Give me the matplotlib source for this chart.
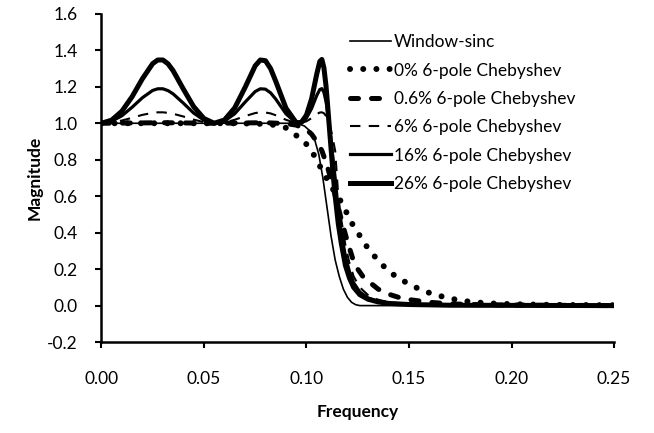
import matplotlib
matplotlib.use('Agg')
import matplotlib.pyplot as plt
from matplotlib.ticker import FormatStrFormatter

plt.rcParams['font.family'] = ['Lato', 'DejaVu Sans']
plt.rcParams['axes.unicode_minus'] = False

# window-sinc
ws_f = [0.000, 0.090, 0.096, 0.099, 0.102, 0.104, 0.106, 0.108, 0.110, 0.112, 0.114,
        0.116, 0.118, 0.120, 0.122, 0.124, 0.126, 0.128, 0.250]
ws_v = [1.000, 1.000, 0.997, 0.985, 0.955, 0.910, 0.830, 0.700, 0.540, 0.380, 0.250,
        0.160, 0.090, 0.045, 0.018, 0.005, 0.000, 0.000, 0.000]

# 0% (butterworth-like)
c0_f = [0.000, 0.060, 0.070, 0.080, 0.085, 0.090, 0.093, 0.0986, 0.1027, 0.1075, 0.1124,
        0.1165, 0.1197, 0.123, 0.1265, 0.1303, 0.1347, 0.1392, 0.1445, 0.1506, 0.1566,
        0.163, 0.1696, 0.1758, 0.182, 0.190, 0.200, 0.220, 0.250]
c0_v = [1.000, 1.000, 0.999, 0.996, 0.990, 0.975, 0.949, 0.905, 0.845, 0.745, 0.647,
        0.577, 0.507, 0.434, 0.375, 0.308, 0.251, 0.198, 0.152, 0.115, 0.082,
        0.059, 0.040, 0.027, 0.018, 0.012, 0.008, 0.004, 0.002]

# 0.6%
c06_f = [0.000, 0.030, 0.055, 0.080, 0.090, 0.095, 0.100, 0.1025, 0.105, 0.1075, 0.110,
         0.1125, 0.115, 0.1175, 0.120, 0.1225, 0.125, 0.1275, 0.130, 0.135, 0.140,
         0.145, 0.150, 0.160, 0.170, 0.180, 0.200, 0.250]
c06_v = [1.000, 1.003, 1.000, 1.003, 0.998, 0.990, 0.965, 0.940, 0.900, 0.850, 0.770,
         0.670, 0.560, 0.450, 0.350, 0.260, 0.200, 0.160, 0.135, 0.090, 0.063,
         0.045, 0.033, 0.018, 0.010, 0.006, 0.003, 0.000]

# shared frequency points for the rippled chebyshev curves
ch_f = [0.000, 0.005, 0.010, 0.015, 0.020, 0.025, 0.0275, 0.030, 0.0325, 0.035, 0.040,
        0.045, 0.050, 0.055, 0.060, 0.065, 0.070, 0.075, 0.0775, 0.080, 0.0825, 0.085,
        0.090, 0.095, 0.0975, 0.100, 0.1025, 0.105, 0.1065, 0.1075, 0.1085, 0.1095,
        0.110, 0.111, 0.112, 0.113, 0.114, 0.1155, 0.117, 0.119, 0.121, 0.123, 0.126,
        0.130, 0.135, 0.140, 0.150, 0.170, 0.250]
c6_v = [1.000, 1.004, 1.015, 1.030, 1.046, 1.057, 1.060, 1.060, 1.057, 1.052, 1.037,
        1.020, 1.006, 1.000, 1.004, 1.019, 1.039, 1.056, 1.060, 1.059, 1.054, 1.044,
        1.019, 1.001, 1.001, 1.011, 1.028, 1.050, 1.059, 1.060, 1.055, 1.041,
        1.030, 1.000, 0.959, 0.907, 0.848, 0.600, 0.470, 0.330, 0.230, 0.160, 0.100,
        0.058, 0.032, 0.019, 0.008, 0.003, 0.000]
c16_v = [1.000, 1.011, 1.041, 1.088, 1.140, 1.180, 1.189, 1.189, 1.179, 1.161, 1.110,
         1.056, 1.017, 1.000, 1.012, 1.052, 1.115, 1.174, 1.189, 1.187, 1.167, 1.133,
         1.052, 1.002, 1.003, 1.029, 1.081, 1.152, 1.185, 1.190, 1.170, 1.121,
         1.087, 1.000, 0.900, 0.797, 0.700, 0.520, 0.400, 0.270, 0.185, 0.125, 0.075,
         0.042, 0.024, 0.014, 0.006, 0.002, 0.000]
c26_v = [1.000, 1.017, 1.066, 1.146, 1.244, 1.327, 1.347, 1.347, 1.326, 1.288, 1.187,
         1.091, 1.026, 1.000, 1.018, 1.084, 1.195, 1.315, 1.347, 1.343, 1.300, 1.231,
         1.083, 1.003, 1.005, 1.045, 1.134, 1.269, 1.339, 1.350, 1.305, 1.208,
         1.143, 1.000, 0.860, 0.720, 0.600, 0.450, 0.340, 0.220, 0.150, 0.100, 0.060,
         0.035, 0.020, 0.012, 0.006, 0.002, 0.000]

labels = ['Window-sinc', '0% 6-pole Chebyshev', '0.6% 6-pole Chebyshev',
          '6% 6-pole Chebyshev', '16% 6-pole Chebyshev', '26% 6-pole Chebyshev']

fig = plt.figure(figsize=(6.54, 4.33), dpi=100)
ax = fig.add_axes([0.155, 0.21, 0.784, 0.758])

ax.plot(ws_f, ws_v, color='black', lw=1.2, label=labels[0])
ax.plot(c0_f, c0_v, color='black', lw=4.3, linestyle=(0, (0.01, 2.2)),
        dash_capstyle='round', label=labels[1])
ax.plot(c06_f, c06_v, color='black', lw=3.6, linestyle=(0, (1.6, 2.6)),
        dash_capstyle='round', label=labels[2])
ax.plot(ch_f, c6_v, color='black', lw=1.5, linestyle=(0, (5, 4)), label=labels[3])
ax.plot(ch_f, c16_v, color='black', lw=2.3, label=labels[4])
ax.plot(ch_f, c26_v, color='black', lw=3.6, label=labels[5])

ax.set_xlim(0, 0.25)
ax.set_ylim(-0.2, 1.6)
ax.set_xticks([0.0, 0.05, 0.10, 0.15, 0.20, 0.25])
ax.set_yticks([-0.2, 0.0, 0.2, 0.4, 0.6, 0.8, 1.0, 1.2, 1.4, 1.6])
ax.xaxis.set_major_formatter(FormatStrFormatter('%.2f'))
ax.yaxis.set_major_formatter(FormatStrFormatter('%.1f'))
ax.tick_params(labelsize=12.5, width=1.5, length=4, direction='out')
ax.tick_params(axis='x', pad=17)
ax.tick_params(axis='y', pad=13)
ax.spines['top'].set_visible(False)
ax.spines['right'].set_visible(False)
ax.spines['left'].set_linewidth(1.8)
ax.spines['bottom'].set_linewidth(1.8)

ax.set_xlabel('Frequency', fontsize=12.5, fontweight='bold', labelpad=12)
ax.set_ylabel('Magnitude', fontsize=12.5, fontweight='bold', labelpad=3)

ax.legend(loc='upper left', bbox_to_anchor=(0.535, 0.921), bbox_transform=fig.transFigure,
          frameon=False, fontsize=12.5, handlelength=2.35, handletextpad=0.2,
          labelspacing=0.71, borderpad=0, borderaxespad=0)

fig.savefig('out.png', dpi=100)
